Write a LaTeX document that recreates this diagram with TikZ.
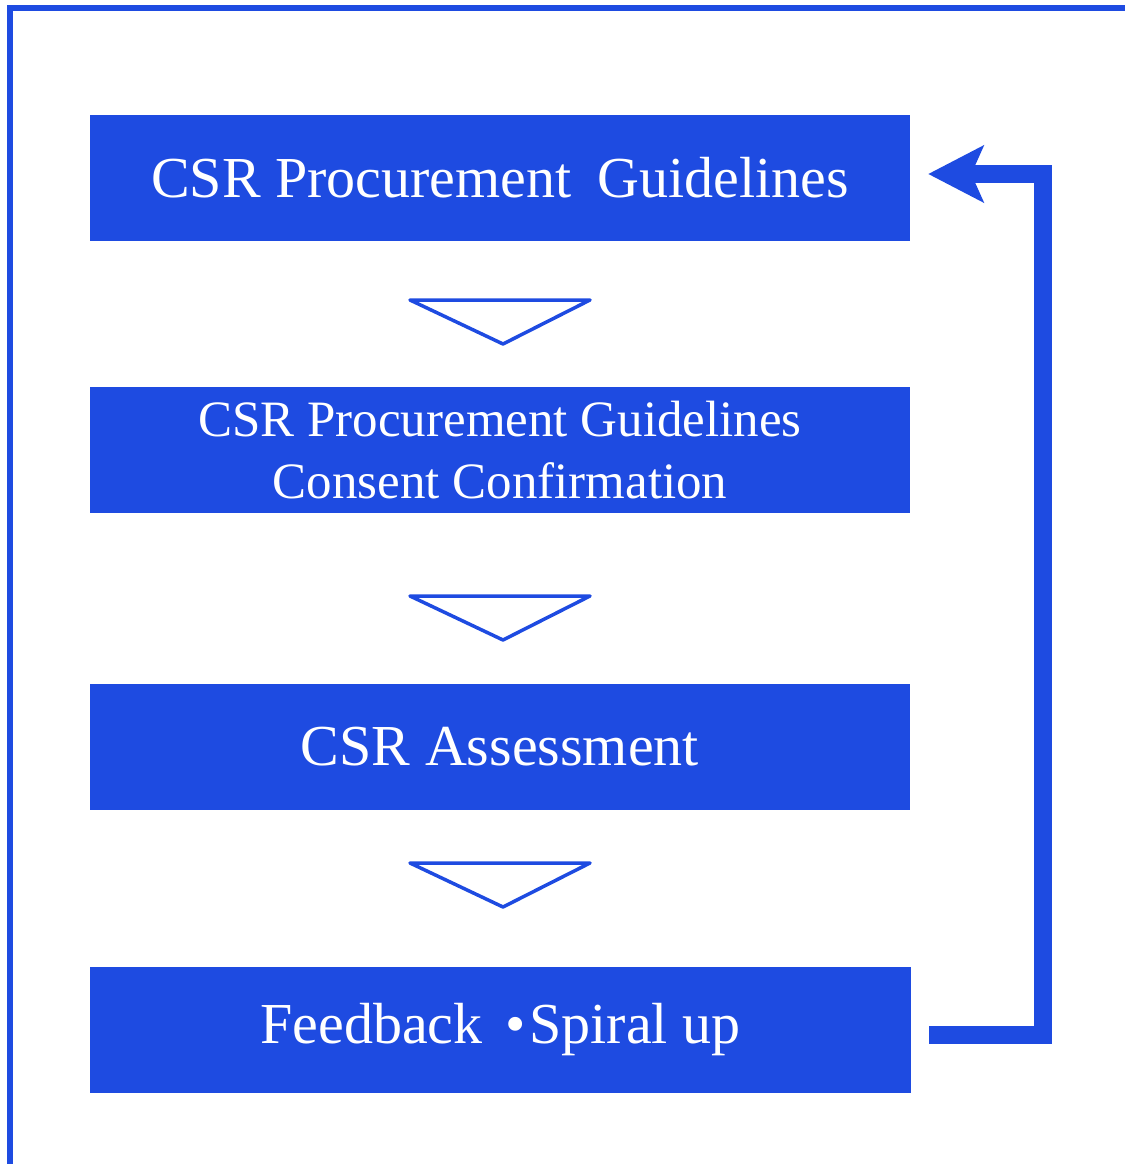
\documentclass[tikz,border=0pt]{standalone}
\usepackage{fontspec}
\setmainfont{Liberation Serif}
\usetikzlibrary{arrows.meta}
\definecolor{csrblue}{RGB}{30,75,225}
\begin{document}
\begin{tikzpicture}[x=1pt,y=-1pt,
    stepbox/.style={fill=csrblue,text=white,minimum width=820pt,minimum height=126pt,inner sep=0pt,align=center,font=\fontsize{58}{58}\selectfont},
    tri/.style={draw=csrblue,line width=3.5pt,line join=round},
    loop/.style={draw=csrblue,line width=18pt}]
        \useasboundingbox (0,0) rectangle (1125,1164);

        \draw[csrblue,line width=6pt] (10,1164) -- (10,8) -- (1125,8);

        \node[stepbox] (gl) at (500,178) {CSR Procurement\hspace{0.45em}Guidelines};
        \node[stepbox,font=\fontsize{51}{62}\selectfont] (cc) at (500,450) {CSR Procurement Guidelines\\Consent Confirmation};
        \node[stepbox] (ca) at (500,747) {CSR Assessment};
        \node[stepbox,minimum width=821pt] (fb) at (500.5,1030) {Feedback \kern8pt•\kern4pt Spiral up};

        \foreach \y in {300,596,863}
            \draw[tri] (410,\y) -- (590,\y) -- (503,\y+44) -- cycle;

        \draw[loop,-{Stealth[length=55pt,width=56pt,inset=12pt]}] ([xshift=18pt,yshift=-5pt]fb.east) -| (1043,174) -- ([xshift=18pt,yshift=4pt]gl.east);

\end{tikzpicture}
\end{document}
